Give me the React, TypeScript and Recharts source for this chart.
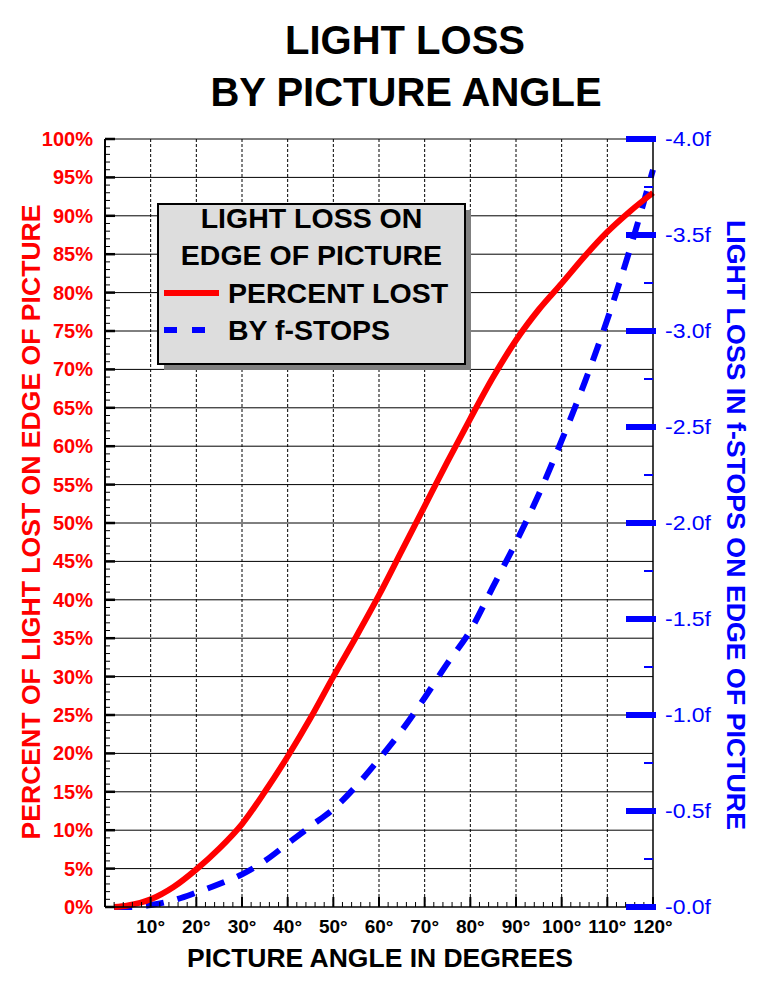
import React from 'react';
import { LineChart, Line, XAxis, YAxis, ReferenceLine } from 'recharts';

// ---- data ----
const angles = [2, 5, 10, 15, 20, 25, 30, 35, 40, 45, 50, 55, 60, 65, 70, 75, 80, 85, 90, 95, 100, 105, 110, 115, 120];
const percentLost = [0, 0.2, 1.0, 2.6, 4.9, 7.6, 10.8, 15.0, 19.6, 24.6, 30.0, 35.2, 40.6, 46.4, 52.2, 58.0, 63.6, 69.0, 73.8, 77.8, 81.2, 84.7, 87.9, 90.6, 93.0];
const fStopsLost = [0, 0, 0.01, 0.035, 0.075, 0.12, 0.17, 0.24, 0.33, 0.42, 0.51, 0.63, 0.77, 0.92, 1.09, 1.27, 1.44, 1.67, 1.9, 2.15, 2.43, 2.73, 3.06, 3.43, 3.84];

const xLabelTicks = [10, 20, 30, 40, 50, 60, 70, 80, 90, 100, 110, 120];
const xGridTicks = [10, 20, 30, 40, 50, 60, 70, 80, 90, 100, 110];
const pctLabelTicks = [0, 5, 10, 15, 20, 25, 30, 35, 40, 45, 50, 55, 60, 65, 70, 75, 80, 85, 90, 95, 100];
const pctGridTicks = [5, 10, 15, 20, 25, 30, 35, 40, 45, 50, 55, 60, 65, 70, 75, 80, 85, 90, 95, 100];
const fLabelTicks = [0, 0.5, 1, 1.5, 2, 2.5, 3, 3.5, 4];
const fMinorTicks = [0.25, 0.75, 1.25, 1.75, 2.25, 2.75, 3.25, 3.75];

const xAllTicks = Array.from({ length: 61 }, (_, i) => i * 2);
const pctAllTicks = Array.from({ length: 101 }, (_, i) => i);
const fAllTicks = [...fLabelTicks, ...fMinorTicks].sort((a, b) => a - b);

const data = angles.map((a, i) => ({ angle: a, pct: percentLost[i], f: fStopsLost[i] }));

const FONT = '"Liberation Sans", Arial, sans-serif';
const RED = '#FF0000';
const BLUE = '#0000FF';

const XTick = (props: any) => {
  const { x, y, payload } = props;
  const v = payload.value;
  const major = v % 10 === 0;
  return (
    <g>
      <line x1={x} x2={x} y1={y} y2={y - (major ? 10 : 5)} stroke="#000" strokeWidth={major ? 2 : 1} />
      {major && xLabelTicks.includes(v) && (
        <text x={x} y={y + 26} textAnchor="middle" fill="#000" fontFamily={FONT} fontWeight="bold" fontSize={19}>
          {v}°
        </text>
      )}
    </g>
  );
};

const PctTick = (props: any) => {
  const { x, y, payload } = props;
  const v = payload.value;
  const major = pctLabelTicks.includes(v);
  return (
    <g>
      <line x1={x} x2={x + (major ? 10 : 5)} y1={y} y2={y} stroke="#000" strokeWidth={major ? 2.5 : 1} />
      {major && (
        <text x={x - 12} y={y + 7} textAnchor="end" fill={RED} fontFamily={FONT} fontWeight="bold" fontSize={20}>
          {v}%
        </text>
      )}
    </g>
  );
};

const FTick = (props: any) => {
  const { x, y, payload } = props;
  const v = payload.value;
  const major = fLabelTicks.includes(v);
  return (
    <g>
      {major ? (
        <line x1={x - 27} x2={x + 3} y1={y} y2={y} stroke={BLUE} strokeWidth={6} />
      ) : (
        <line x1={x - 9} x2={x} y1={y} y2={y} stroke={BLUE} strokeWidth={2} />
      )}
      {major && (
        <text x={x + 12} y={y + 7} textAnchor="start" fill={BLUE} fontFamily={FONT} fontSize={20} textLength={46} lengthAdjust="spacingAndGlyphs">
          {`-${v.toFixed(1)}f`}
        </text>
      )}
    </g>
  );
};

export default function App() {
  return (
    <div style={{ position: 'absolute', left: 0, top: 0, width: 767, height: 996, background: '#fff' }}>
      <LineChart width={767} height={996} data={data} margin={{ top: 139, right: 54, bottom: 49, left: 45 }}>
        {pctGridTicks.map((v) => (
          <ReferenceLine key={'h' + v} y={v} yAxisId="pct" stroke="#000" strokeWidth={1} />
        ))}
        {xGridTicks.map((v) => (
          <ReferenceLine key={'v' + v} x={v} yAxisId="pct" stroke="#000" strokeWidth={1} strokeDasharray="3 2" />
        ))}
        <XAxis
          dataKey="angle"
          type="number"
          domain={[0, 120]}
          ticks={xAllTicks}
          interval={0}
          height={40}
          tickSize={0}
          tickMargin={0}
          tickLine={false}
          axisLine={{ stroke: '#000', strokeWidth: 1.5 }}
          tick={(p: any) => <XTick {...p} />}
        />
        <YAxis
          yAxisId="pct"
          orientation="left"
          type="number"
          domain={[0, 100]}
          ticks={pctAllTicks}
          interval={0}
          width={60}
          tickSize={0}
          tickMargin={0}
          tickLine={false}
          axisLine={{ stroke: '#000', strokeWidth: 2 }}
          tick={(p: any) => <PctTick {...p} />}
        />
        <YAxis
          yAxisId="f"
          orientation="right"
          type="number"
          domain={[0, 4]}
          ticks={fAllTicks}
          interval={0}
          width={60}
          tickSize={0}
          tickMargin={0}
          tickLine={false}
          axisLine={{ stroke: '#000', strokeWidth: 1.5 }}
          tick={(p: any) => <FTick {...p} />}
        />
        <Line
          yAxisId="f"
          dataKey="f"
          type="monotone"
          stroke={BLUE}
          strokeWidth={6}
          strokeDasharray="18 14"
          dot={false}
          activeDot={false}
          isAnimationActive={false}
        />
        <Line
          yAxisId="pct"
          dataKey="pct"
          type="monotone"
          stroke={RED}
          strokeWidth={6}
          dot={false}
          activeDot={false}
          isAnimationActive={false}
        />
      </LineChart>
      <svg width={767} height={996} style={{ position: 'absolute', left: 0, top: 0, pointerEvents: 'none' }}>
        <text x={405} y={54} textAnchor="middle" fontFamily={FONT} fontWeight="bold" fontSize={40} fill="#000">
          LIGHT LOSS
        </text>
        <text x={406} y={106} textAnchor="middle" fontFamily={FONT} fontWeight="bold" fontSize={40} fill="#000">
          BY PICTURE ANGLE
        </text>
        <text
          transform="translate(40,522) rotate(-90)"
          textAnchor="middle"
          fontFamily={FONT}
          fontWeight="bold"
          fontSize={26.5}
          fill={RED}
          textLength={635}
          lengthAdjust="spacingAndGlyphs"
        >
          PERCENT OF LIGHT LOST ON EDGE OF PICTURE
        </text>
        <text
          transform="translate(727,525) rotate(90)"
          textAnchor="middle"
          fontFamily={FONT}
          fontWeight="bold"
          fontSize={26.5}
          fill={BLUE}
          textLength={610}
          lengthAdjust="spacingAndGlyphs"
        >
          LIGHT LOSS IN f-STOPS ON EDGE OF PICTURE
        </text>
        <text
          x={380}
          y={967}
          textAnchor="middle"
          fontFamily={FONT}
          fontWeight="bold"
          fontSize={25}
          fill="#000"
          textLength={386}
          lengthAdjust="spacingAndGlyphs"
        >
          PICTURE ANGLE IN DEGREES
        </text>
        {/* legend */}
        <rect x={164} y={210} width={307} height={160} fill="#808080" />
        <rect x={158} y={204} width={307} height={160} fill="#DDDDDD" stroke="#000" strokeWidth={2} />
        <text x={311.5} y={228} textAnchor="middle" fontFamily={FONT} fontWeight="bold" fontSize={28.5} fill="#000">
          LIGHT LOSS ON
        </text>
        <text x={311.5} y={265} textAnchor="middle" fontFamily={FONT} fontWeight="bold" fontSize={28.5} fill="#000">
          EDGE OF PICTURE
        </text>
        <line x1={164} x2={219} y1={293} y2={293} stroke={RED} strokeWidth={6} />
        <text x={228} y={303} fontFamily={FONT} fontWeight="bold" fontSize={28.5} fill="#000">
          PERCENT LOST
        </text>
        <line x1={164} x2={220} y1={330} y2={330} stroke={BLUE} strokeWidth={6} strokeDasharray="13 15" />
        <text x={228} y={340} fontFamily={FONT} fontWeight="bold" fontSize={28.5} fill="#000">
          BY f-STOPS
        </text>
      </svg>
    </div>
  );
}
